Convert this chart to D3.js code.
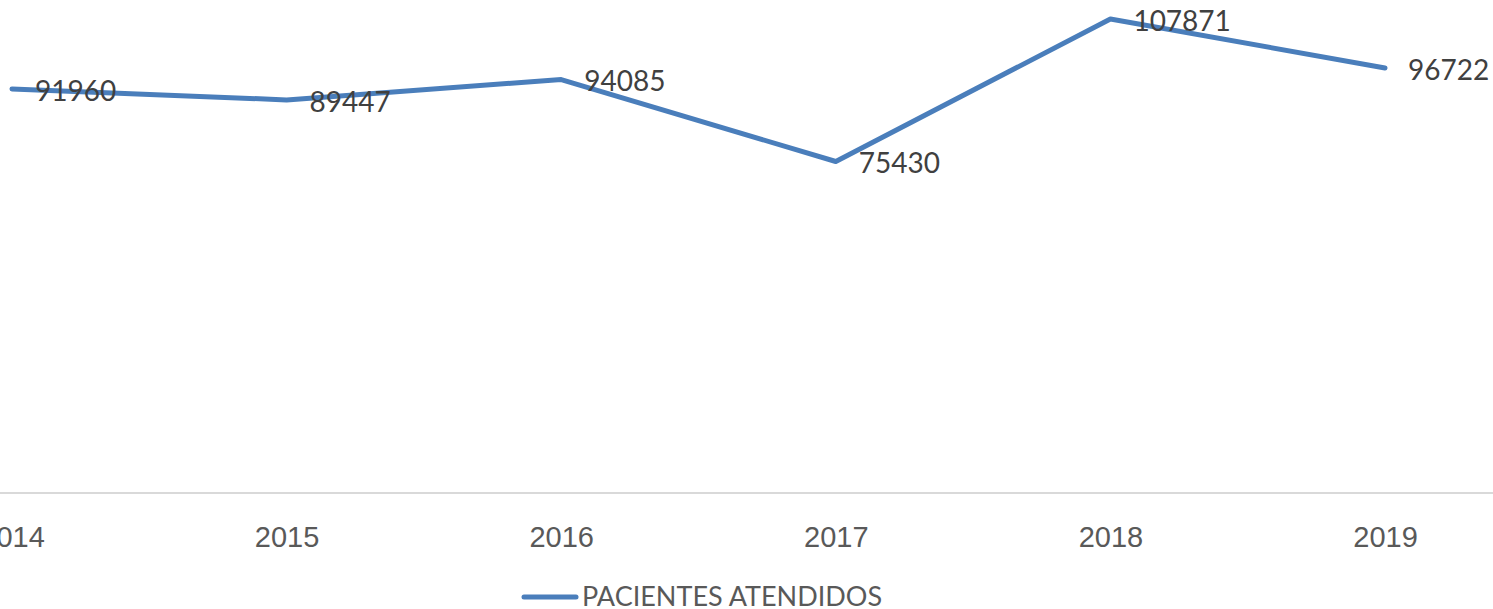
<!DOCTYPE html>
<html lang="es">
<head>
    <meta charset="UTF-8">
    <title>Pacientes atendidos</title>
    <script src="https://cdnjs.cloudflare.com/ajax/libs/d3/7.8.5/d3.min.js"></script>
    <style>
        html, body { margin: 0; padding: 0; background: #fff; overflow: hidden; }
        svg { display: block; font-family: Lato, "Open Sans", sans-serif; }
    </style>
</head>
<body>
    <div id="chart"></div>
    <script>
        const years = ["2014", "2015", "2016", "2017", "2018", "2019"];
        const pacientes = [91960, 89447, 94085, 75430, 107871, 96722];
        const seriesName = "PACIENTES ATENDIDOS";

        const width = 1493, height = 609;

        const svg = d3.select("#chart")
            .append("svg")
            .attr("width", width)
            .attr("height", height);

        // category axis: points sit in the middle of each band
        const x = d3.scalePoint()
            .domain(years)
            .range([12, 1385]);

        const y = d3.scaleLinear()
            .domain([0, 110000])
            .range([493, 9.6]);

        // axis baseline
        const step = x.step();
        svg.append("line")
            .attr("x1", x(years[0]) - step / 2)
            .attr("x2", x(years[years.length - 1]) + step / 2)
            .attr("y1", y(0))
            .attr("y2", y(0))
            .attr("stroke", "#d9d9d9")
            .attr("stroke-width", 2);

        const xAxis = svg.append("g")
            .attr("transform", `translate(0,${y(0)})`)
            .call(d3.axisBottom(x).tickSize(0).tickPadding(0));
        xAxis.select(".domain").remove();
        xAxis.selectAll("text")
            .attr("y", 44)
            .attr("dy", "0.35em")
            .attr("fill", "#595959")
            .style("font-size", "29px");

        const data = years.map((yr, i) => ({ year: yr, value: pacientes[i] }));

        const line = d3.line()
            .x(d => x(d.year))
            .y(d => y(d.value));

        svg.append("path")
            .datum(data)
            .attr("d", line)
            .attr("fill", "none")
            .attr("stroke", "#4a7ebb")
            .attr("stroke-width", 5)
            .attr("stroke-linejoin", "round")
            .attr("stroke-linecap", "round");

        // data labels to the right of each point
        svg.append("g")
            .selectAll("text")
            .data(data)
            .join("text")
            .attr("x", d => x(d.year) + 23)
            .attr("y", d => y(d.value) + 2)
            .attr("dy", "0.35em")
            .attr("fill", "#404040")
            .style("font-size", "28px")
            .text(d => d.value);

        // legend
        const legend = svg.append("g").attr("transform", "translate(0,597)");
        legend.append("line")
            .attr("x1", 524).attr("x2", 576)
            .attr("y1", 0).attr("y2", 0)
            .attr("stroke", "#4a7ebb")
            .attr("stroke-width", 5)
            .attr("stroke-linecap", "round");
        legend.append("text")
            .attr("x", 582)
            .attr("dy", "0.35em")
            .attr("fill", "#595959")
            .style("font-size", "27px")
            .text(seriesName);
    </script>
</body>
</html>
